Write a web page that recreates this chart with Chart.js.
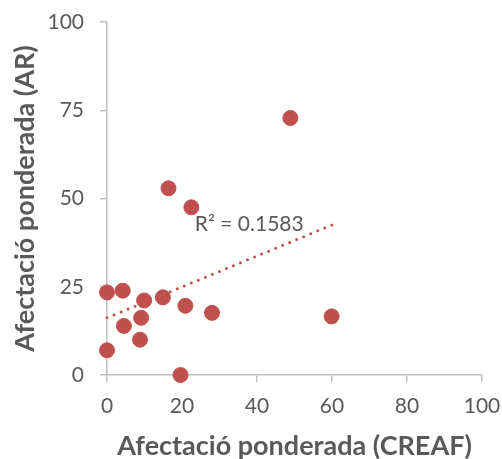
<!DOCTYPE html>
<html>
<head>
    <title>Afectació ponderada</title>
    <script src="https://cdn.jsdelivr.net/npm/chart.js"></script>
    <style>
        body { margin: 0; background: white; }
        #wrap { width: 502px; height: 459px; }
    </style>
</head>
<body>
    <div id="wrap"><canvas id="scatter"></canvas></div>
    <script>
        // values
        let creaf = [0, 4.2, 9.9, 14.9, 20.9, 28.0, 4.5, 9.1, 8.8, 0, 19.6, 59.9, 16.4, 22.5, 48.9];
        let ar    = [23.4, 23.9, 21.1, 22.0, 19.6, 17.6, 13.9, 16.2, 10.0, 7.0, 0, 16.6, 52.9, 47.5, 72.8];
        let trendX = [0, 60];
        let trendY = [16.2, 42.5];
        let r2Label = 'R² = 0.1583';

        let red = '#C0504D';
        let grey = '#595959';
        let axisGrey = '#BFBFBF';
        let font = 'Lato';

        let r2Plugin = {
            id: 'r2',
            afterDatasetsDraw(chart) {
                let ctx = chart.ctx;
                let x = chart.scales.x.getPixelForValue(23.4);
                let y = chart.scales.y.getPixelForValue(42.8);
                ctx.save();
                ctx.font = '21px ' + font;
                ctx.fillStyle = grey;
                ctx.textBaseline = 'middle';
                ctx.fillText(r2Label, x, y);
                ctx.restore();
            }
        };

        new Chart(document.getElementById('scatter'), {
            type: 'scatter',
            data: {
                datasets: [{
                    data: creaf.map((v, i) => ({x: v, y: ar[i]})),
                    backgroundColor: red,
                    borderColor: red,
                    pointRadius: 7.5,
                    pointHoverRadius: 7.5,
                    clip: false
                }, {
                    type: 'line',
                    data: trendX.map((v, i) => ({x: v, y: trendY[i]})),
                    borderColor: red,
                    borderWidth: 3,
                    borderDash: [0, 7.6],
                    borderCapStyle: 'round',
                    pointRadius: 0,
                    fill: false,
                    clip: false
                }]
            },
            options: {
                responsive: true,
                maintainAspectRatio: false,
                animation: false,
                layout: { padding: { top: 22, right: 20, left: 0, bottom: 0 } },
                plugins: { legend: { display: false }, tooltip: { enabled: false } },
                scales: {
                    x: {
                        type: 'linear',
                        min: 0, max: 100,
                        ticks: { stepSize: 20, color: grey, font: { family: font, size: 21 }, padding: 12 },
                        grid: { drawOnChartArea: false, color: axisGrey, tickLength: 7, lineWidth: 1.5 },
                        border: { color: axisGrey, width: 1.5 },
                        title: { display: true, text: 'Afectació ponderada (CREAF)', color: grey,
                                 font: { family: font, size: 27, weight: 'bold' }, padding: { top: 0, bottom: -3 } },
                        afterFit(s) { s.height = 84; s.paddingLeft = 0; s.paddingRight = 0; }
                    },
                    y: {
                        min: 0, max: 100,
                        ticks: { stepSize: 25, color: grey, font: { family: font, size: 21 }, padding: 16 },
                        grid: { drawOnChartArea: false, color: axisGrey, tickLength: 7, lineWidth: 1.5 },
                        border: { color: axisGrey, width: 1.5 },
                        title: { display: true, text: 'Afectació ponderada (AR)', color: grey,
                                 font: { family: font, size: 27, weight: 'bold' }, padding: { top: 9, bottom: 0 } },
                        afterFit(s) { s.width = 107; s.paddingTop = 0; s.paddingBottom = 0; }
                    }
                }
            },
            plugins: [r2Plugin]
        });
    </script>
</body>
</html>
